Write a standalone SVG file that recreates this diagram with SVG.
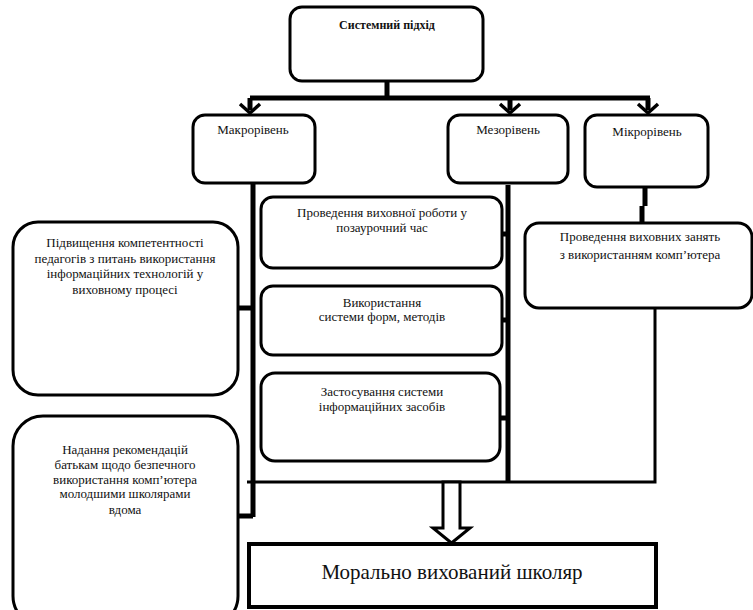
<svg xmlns="http://www.w3.org/2000/svg" width="753" height="610" viewBox="0 0 753 610">
<rect width="753" height="610" fill="#fff"/>
<g id="connectors" fill="none" stroke="#000">
<path stroke-width="5" d="M387,81 V98 M250,98 H650 M250,98 V110 M510,98 V110 M648,98 V110"/>
<path stroke-width="3.5" d="M240,104 L250,113 L260,104 M500,104 L510,113 L520,104 M638,104 L648,113 L658,104"/>
<path stroke-width="5" d="M253,183 V517 M238,308 H253 M238,516 H253"/>
<path stroke-width="5" d="M508,185 V482 M502,234 H508 M502,320 H508 M500,418 H508"/>
<path stroke-width="5" d="M645,187 V206 M642,206 V225"/>
<path stroke-width="3" d="M655,308 V482 H247"/>
<polygon points="443,482 460,482 460,528 470,528 451.5,543 433,528 443,528" fill="#fff" stroke-width="3"/>
</g>
<g id="top"><rect x="290" y="7" width="193" height="74" rx="12" fill="#fff" stroke="#000" stroke-width="3"/><text x="387" y="29" font-family="Liberation Serif" font-size="12" font-weight="bold" text-anchor="middle" fill="#111">Системний підхід</text></g>
<g id="macro"><rect x="193" y="115" width="122" height="68" rx="12" fill="#fff" stroke="#000" stroke-width="3"/><text x="253" y="134" font-family="Liberation Serif" font-size="13" text-anchor="middle" fill="#111">Макрорівень</text></g>
<g id="meso"><rect x="448" y="115" width="120" height="68" rx="12" fill="#fff" stroke="#000" stroke-width="3"/><text x="508" y="134" font-family="Liberation Serif" font-size="13" text-anchor="middle" fill="#111">Мезорівень</text></g>
<g id="micro"><rect x="585" y="115" width="123" height="72" rx="12" fill="#fff" stroke="#000" stroke-width="3"/><text x="647" y="136" font-family="Liberation Serif" font-size="13" text-anchor="middle" fill="#111">Мікрорівень</text></g>
<g id="left1"><rect x="13" y="222" width="225" height="173" rx="25" fill="#fff" stroke="#000" stroke-width="3"/>
<text x="125" y="247" font-family="Liberation Serif" font-size="13" text-anchor="middle" fill="#111">Підвищення компетентності</text>
<text x="125" y="263" font-family="Liberation Serif" font-size="13" text-anchor="middle" fill="#111">педагогів з питань використання</text>
<text x="125" y="278" font-family="Liberation Serif" font-size="13" text-anchor="middle" fill="#111">інформаційних технологій у</text>
<text x="125" y="294" font-family="Liberation Serif" font-size="13" text-anchor="middle" fill="#111">виховному процесі</text></g>
<g id="left2"><rect x="13" y="416" width="225" height="210" rx="30" fill="#fff" stroke="#000" stroke-width="3"/>
<text x="125" y="454" font-family="Liberation Serif" font-size="13" text-anchor="middle" fill="#111">Надання рекомендацій</text>
<text x="125" y="469" font-family="Liberation Serif" font-size="13" text-anchor="middle" fill="#111">батькам щодо безпечного</text>
<text x="125" y="484" font-family="Liberation Serif" font-size="13" text-anchor="middle" fill="#111">використання комп’ютера</text>
<text x="125" y="498" font-family="Liberation Serif" font-size="13" text-anchor="middle" fill="#111">молодшими школярами</text>
<text x="125" y="514" font-family="Liberation Serif" font-size="13" text-anchor="middle" fill="#111">вдома</text></g>
<g id="mid1"><rect x="261" y="197" width="241" height="71" rx="12" fill="#fff" stroke="#000" stroke-width="3"/>
<text x="382" y="217" font-family="Liberation Serif" font-size="13" text-anchor="middle" fill="#111">Проведення виховної роботи у</text>
<text x="382" y="232" font-family="Liberation Serif" font-size="13" text-anchor="middle" fill="#111">позаурочний час</text></g>
<g id="mid2"><rect x="261" y="286" width="241" height="69" rx="12" fill="#fff" stroke="#000" stroke-width="3"/>
<text x="382" y="307" font-family="Liberation Serif" font-size="13" text-anchor="middle" fill="#111">Використання</text>
<text x="382" y="321" font-family="Liberation Serif" font-size="13" text-anchor="middle" fill="#111">системи форм, методів</text></g>
<g id="mid3"><rect x="261" y="373" width="239" height="88" rx="14" fill="#fff" stroke="#000" stroke-width="3"/>
<text x="382" y="396" font-family="Liberation Serif" font-size="13" text-anchor="middle" fill="#111">Застосування системи</text>
<text x="382" y="411" font-family="Liberation Serif" font-size="13" text-anchor="middle" fill="#111">інформаційних засобів</text></g>
<g id="micro2"><rect x="525" y="223" width="227" height="85" rx="14" fill="#fff" stroke="#000" stroke-width="3"/>
<text x="640" y="241" font-family="Liberation Serif" font-size="13" text-anchor="middle" fill="#111">Проведення виховних занять</text>
<text x="640" y="259" font-family="Liberation Serif" font-size="13" text-anchor="middle" fill="#111">з використанням комп’ютера</text></g>
<g id="result"><rect x="249" y="544" width="407" height="63" fill="#fff" stroke="#000" stroke-width="4"/>
<text x="452" y="579" font-family="Liberation Serif" font-size="21" text-anchor="middle" fill="#111">Морально вихований школяр</text></g>
</svg>
